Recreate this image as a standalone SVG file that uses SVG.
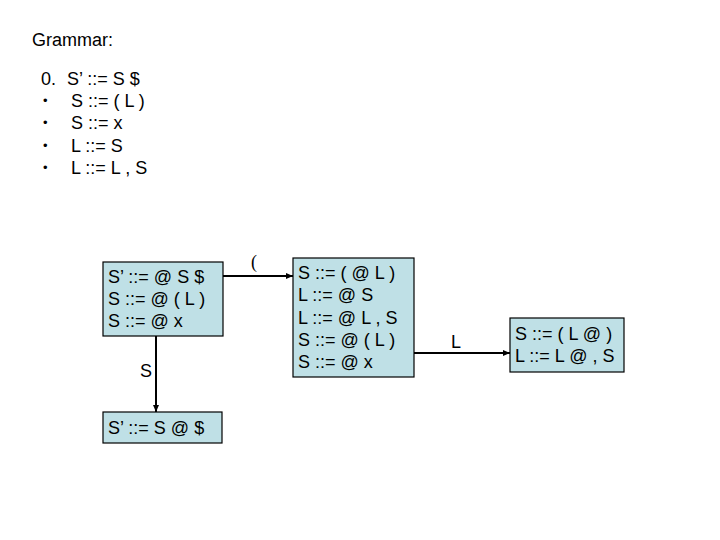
<svg xmlns="http://www.w3.org/2000/svg" width="720" height="540" viewBox="0 0 720 540">
<style>
text{font-family:"Liberation Sans",Arial,sans-serif;fill:#000;font-size:18px}
.bul{font-size:13px}
.box{fill:#bfe0e6;stroke:#000;stroke-width:1.2}
.c{stroke:#000;stroke-width:2;fill:none}
</style>
<defs>
<marker id="ah" markerWidth="8" markerHeight="8" refX="7" refY="4" orient="auto" markerUnits="userSpaceOnUse">
<path d="M0,1 L7,4 L0,7 Z" fill="#000"/>
</marker>
</defs>
<rect width="720" height="540" fill="#fff"/>
<g id="grammar">
<text x="32" y="46">Grammar:</text>
<text x="41" y="85">0.</text>
<text x="67" y="85">S’ ::= S $</text>
<text class="bul" x="43" y="105">•</text>
<text x="71" y="107">S ::= ( L )</text>
<text class="bul" x="43" y="127">•</text>
<text x="71" y="129">S ::= x</text>
<text class="bul" x="43" y="150">•</text>
<text x="71" y="152">L ::= S</text>
<text class="bul" x="43" y="172">•</text>
<text x="71" y="174">L ::= L , S</text>
</g>
<g id="connectors">
<line class="c" x1="223" y1="276" x2="293" y2="276" marker-end="url(#ah)"/>
<line class="c" x1="414" y1="353" x2="510" y2="353" marker-end="url(#ah)"/>
<line class="c" x1="156" y1="336" x2="156" y2="412" marker-end="url(#ah)"/>
<text x="251" y="268" style="font-family:'Liberation Serif',serif">(</text>
<text x="451" y="348">L</text>
<text x="140" y="377">S</text>
</g>
<g id="state1">
<rect class="box" x="103" y="262" width="120" height="74"/>
<text x="108" y="283">S’ ::= @ S $</text>
<text x="108" y="305">S ::= @ ( L )</text>
<text x="108" y="327">S ::= @ x</text>
</g>
<g id="state2">
<rect class="box" x="293" y="258" width="121" height="119"/>
<text x="298" y="279">S ::= ( @ L )</text>
<text x="298" y="301">L ::= @ S</text>
<text x="298" y="324">L ::= @ L , S</text>
<text x="298" y="346">S ::= @ ( L )</text>
<text x="298" y="368">S ::= @ x</text>
</g>
<g id="state3">
<rect class="box" x="510" y="318" width="114" height="54"/>
<text x="515" y="340">S ::= ( L @ )</text>
<text x="515" y="362">L ::= L @ , S</text>
</g>
<g id="state4">
<rect class="box" x="103" y="412" width="119" height="31"/>
<text x="108" y="434">S’ ::= S @ $</text>
</g>
</svg>
